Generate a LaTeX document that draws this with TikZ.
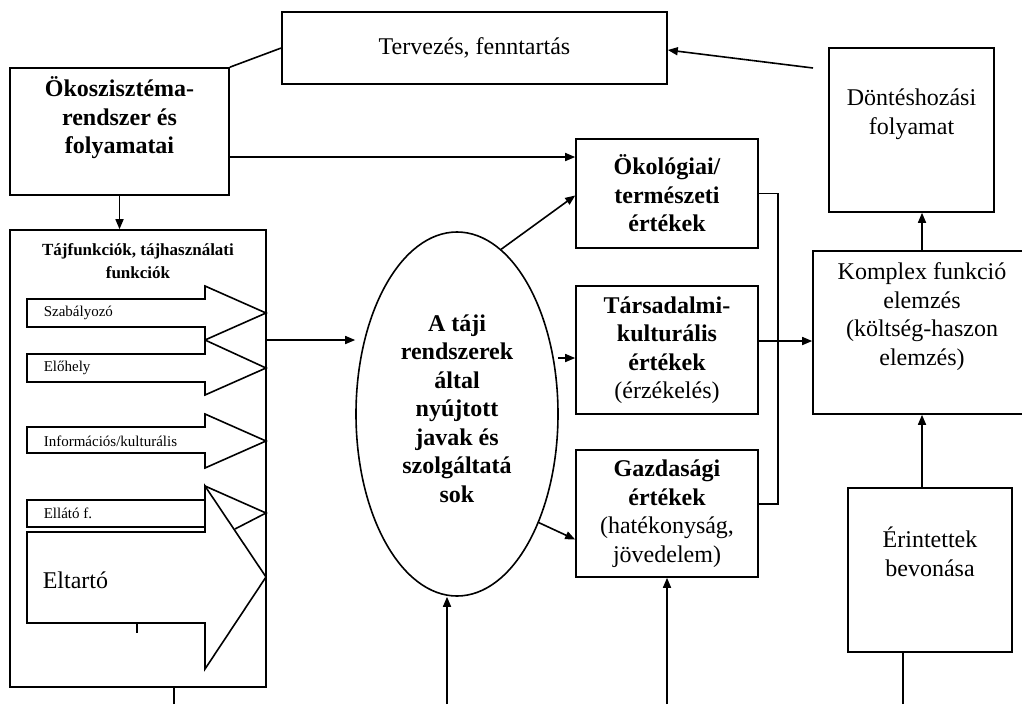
\documentclass[tikz,border=0pt]{standalone}
\usepackage{fontspec}
\setmainfont{Liberation Serif}
\usetikzlibrary{arrows.meta,shapes.geometric,calc}
\begin{document}
\begin{tikzpicture}[x=1pt,y=-1pt,line width=1.6pt,
  box/.style={draw, inner sep=0pt},
  big/.style={font=\fontsize{24}{28.5}\selectfont, align=center, inner sep=0pt},
  bigb/.style={font=\bfseries\fontsize{24}{28.5}\selectfont, align=center, inner sep=0pt},
  small/.style={font=\fontsize{15}{17}\selectfont, anchor=west, inner sep=0pt},
  arr/.style={-{Triangle[length=10pt,width=8pt]}},
  blk/.style={draw, line join=miter}]
\useasboundingbox (0,0) rectangle (1022,704);
\clip (0,0) rectangle (1022,704);

% boxes
\node[box, minimum width=385pt, minimum height=72pt, big] (terv) at (474.5,48) {Tervezés, fenntartás};
\node[box, minimum width=219pt, minimum height=127pt] (oko) at (119.5,131.5) {};
\node[bigb] (okot) at (119.5,118) {Ökoszisztéma-\\rendszer és\\folyamatai};
\node[box, minimum width=182pt, minimum height=109pt, bigb] (okol) at (667,193.5) {Ökológiai/\\természeti\\értékek};
\node[box, minimum width=182pt, minimum height=128pt, big] (tars) at (667,350) {\textbf{Társadalmi-}\\\textbf{kulturális}\\\textbf{értékek}\\(érzékelés)};
\node[box, minimum width=182pt, minimum height=127pt, big] (gaz) at (667,513.5) {\textbf{Gazdasági}\\\textbf{értékek}\\(hatékonyság,\\jövedelem)};
\node[box, minimum width=165pt, minimum height=164pt] (dont) at (911.5,130) {};
\node[big] (dontt) at (911.5,114) {Döntéshozási\\folyamat};
\node[box, minimum width=218pt, minimum height=163pt] (komp) at (922,332.5) {};
\node[big] (kompt) at (922,316.5) {Komplex funkció\\elemzés\\(költség-haszon\\elemzés)};
\node[box, minimum width=164pt, minimum height=164pt] (erin) at (930,570) {};
\node[big] (erint) at (930,552) {Érintettek\\bevonása};
\node[box, minimum width=256pt, minimum height=457pt] (taj) at (138,458.5) {};
\node[font=\bfseries\fontsize{17}{23}\selectfont, align=center, inner sep=0pt] (tajt) at (138,261.5) {Tájfunkciók, tájhasználati\\funkciók};
\node[draw, ellipse, minimum width=202pt, minimum height=364pt, inner sep=0pt] (ell) at (457,414) {};
\node[bigb] (ellt) at (457,408.5) {A táji\\rendszerek\\által\\nyújtott\\javak és\\szolgáltatá\\sok};

% block arrows
\draw[blk] (27,299) -- (205,299) -- (205,286) -- (266,313) -- (205,340) -- (205,327) -- (27,327) -- cycle;
\draw[blk] (27,354) -- (205,354) -- (205,340) -- (266,368) -- (205,395) -- (205,382) -- (27,382) -- cycle;
\draw[blk] (27,427) -- (205,427) -- (205,414) -- (266,441) -- (205,468) -- (205,453) -- (27,453) -- cycle;
\draw[blk] (27,532) -- (205,532) -- (205,486) -- (266,577) -- (205,669) -- (205,623) -- (27,623) -- cycle;
\draw[blk] (235,529) -- (266,513) -- (205,486) -- (205,500) -- (27,500) -- (27,527) -- (205,527) -- (205,532);
\draw (137,623) -- (137,633);
\node[small] (lsz) at (43,313) {Szabályozó};
\node[small] (lel) at (43,368) {Előhely};
\node[small] (linf) at (43,441) {Információs/kulturális};
\node[small] (lell) at (43,513) {Ellátó f.};
\node[font=\fontsize{24}{28}\selectfont, anchor=west, inner sep=0pt] (lelt) at (42,580) {Eltartó};

% connectors
\draw (oko.north east) -- (terv.west);
\coordinate (dstart) at (813,68);
\draw[arr] (dstart) -- ([yshift=-2pt]terv.east);
\coordinate (o1) at (229,157);
\draw[arr] (o1) -- (o1 -| okol.west);
\draw[arr] (oko.south) -- (oko.south |- taj.north);
\coordinate (t1) at (266,340);
\draw[arr] (t1) -- (t1 -| ell.west);
\draw[arr] (ell.75) -- ([yshift=-2pt]okol.west);
\coordinate (e2) at (558,358);
\draw[arr] (e2) -- (e2 -| tars.west);
\draw[arr] (ell.-53) -- ([yshift=-26pt]gaz.west);
\coordinate (b1) at (447,704);
\draw[arr] (b1) -- (b1 |- ell.south);
\coordinate (b2) at (667,704);
\draw[arr] (b2) -- (gaz.south);
\coordinate (b3) at (174,704);
\draw (b3) -- (b3 |- taj.south);
\coordinate (b4) at (903,704);
\draw (b4) -- (b4 |- erin.south);
\coordinate (xk) at (922,0);
\draw[arr] (xk |- erin.north) -- (xk |- komp.south);
\draw[arr] (xk |- komp.north) -- (xk |- dont.south);
\draw (okol.east) -- ++(19,0) |- ([yshift=9.5pt]gaz.east);
\coordinate (c3) at (758,341);
\draw[arr] (c3) -- (c3 -| komp.west);
\end{tikzpicture}
\end{document}
